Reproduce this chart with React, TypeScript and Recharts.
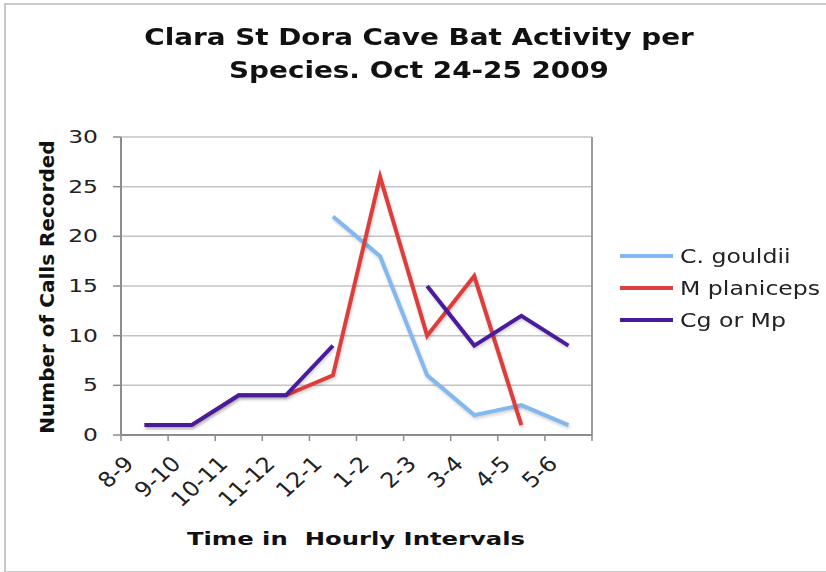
import React from 'react';
import { LineChart, Line, XAxis, YAxis, CartesianGrid, ReferenceLine } from 'recharts';

const categories = ['8-9', '9-10', '10-11', '11-12', '12-1', '1-2', '2-3', '3-4', '4-5', '5-6'];
const cGouldii = [null, null, null, null, 22, 18, 6, 2, 3, 1];
const mPlaniceps = [1, 1, 4, 4, 6, 26, 10, 16, 1, null];
const cgOrMp = [1, 1, 4, 4, 9, null, 15, 9, 12, 9];
const yTicks = [0, 5, 10, 15, 20, 25, 30];

const series = [
  { key: 'gouldii', name: 'C. gouldii', color: '#82b8ee' },
  { key: 'planiceps', name: 'M planiceps', color: '#dc3e3c' },
  { key: 'cgmp', name: 'Cg or Mp', color: '#4a1c9c' },
];

// points sit in the middle of each hourly slot, ticks on the slot edges
const data = categories.map((slot, i) => ({
  pos: i + 0.5,
  slot,
  gouldii: cGouldii[i],
  planiceps: mPlaniceps[i],
  cgmp: cgOrMp[i],
}));
const xTicks = [...categories.map((_, i) => i), categories.length];

const FONT = '"DejaVu Sans", Verdana, sans-serif';

const XTick = (props: any) => {
  const { x, payload } = props;
  const label = categories[payload.value];
  if (!label) return null;
  return (
    <text
      transform={`translate(${x + 14},${465}) scale(1.12,1) rotate(-45)`}
      textAnchor="end"
      fontFamily={FONT}
      fontSize={21}
      fill="#222"
    >
      {label}
    </text>
  );
};

const YTick = (props: any) => {
  const { x, y, payload } = props;
  return (
    <text
      transform={`translate(${x},${y}) scale(1.3,1)`}
      textAnchor="end"
      dominantBaseline="central"
      fontFamily={FONT}
      fontSize={18}
      fill="#222"
    >
      {payload.value}
    </text>
  );
};

export default function App() {
  return (
    <div style={{ position: 'absolute', left: 0, top: 0, width: 826, height: 572, overflow: 'hidden', background: '#fff', fontFamily: FONT }}>
      {/* outer frame */}
      <div style={{ position: 'absolute', left: 4, top: 3, width: 840, height: 566, border: '2px solid #c9c9c9', borderRight: 'none' }} />

      <div style={{ position: 'absolute', left: 0, top: 21, width: 838, textAlign: 'center', fontWeight: 'bold', fontSize: 23, lineHeight: '33px', color: '#111' }}>
        <div style={{ transform: 'scaleX(1.21)' }}>Clara St Dora Cave Bat Activity per</div>
        <div style={{ transform: 'scaleX(1.21)' }}>Species. Oct 24-25 2009</div>
      </div>

      <LineChart width={826} height={572} data={data} margin={{ top: 137, right: 234, left: 0, bottom: 97 }}>
        <CartesianGrid vertical={false} stroke="#c4c4c4" strokeWidth={1.5} />
        <XAxis
          type="number"
          dataKey="pos"
          domain={[0, categories.length]}
          ticks={xTicks}
          interval={0}
          height={40}
          tickSize={6}
          tick={<XTick />}
          axisLine={{ stroke: '#8c8c8c', strokeWidth: 2 }}
          tickLine={{ stroke: '#8c8c8c', strokeWidth: 1.5 }}
        />
        <YAxis
          domain={[0, 30]}
          ticks={yTicks}
          width={121}
          tickSize={8}
          tickMargin={15}
          tick={<YTick />}
          axisLine={{ stroke: '#8c8c8c', strokeWidth: 2 }}
          tickLine={{ stroke: '#8c8c8c', strokeWidth: 1.5 }}
        />
        <ReferenceLine x={categories.length} stroke="#9a9a9a" strokeWidth={2} />
        {series.map((s) => (
          <Line
            key={s.key}
            dataKey={s.key}
            name={s.name}
            stroke={s.color}
            strokeWidth={4}
            dot={false}
            activeDot={false}
            isAnimationActive={false}
            style={{ filter: 'drop-shadow(1px 2px 1.5px rgba(0,0,0,0.18))' }}
          />
        ))}
      </LineChart>

      <div
        style={{
          position: 'absolute',
          left: 47,
          top: 287,
          transform: 'translate(-50%, -50%) rotate(-90deg)',
          whiteSpace: 'nowrap',
          fontWeight: 'bold',
          fontSize: 20,
          color: '#111',
        }}
      >
        Number of Calls Recorded
      </div>

      <div style={{ position: 'absolute', left: 356, top: 538, transform: 'translate(-50%, -50%) scaleX(1.35)', whiteSpace: 'pre', fontWeight: 'bold', fontSize: 18, color: '#111' }}>
        {'Time in  Hourly Intervals'}
      </div>

      <div style={{ position: 'absolute', left: 620, top: 240 }}>
        {series.map((s) => (
          <div key={s.key} style={{ display: 'flex', alignItems: 'center', height: 32 }}>
            <div style={{ width: 53, height: 4, background: s.color, marginRight: 7 }} />
            <div style={{ fontSize: 20, color: '#222', whiteSpace: 'nowrap', transform: 'scaleX(1.18)', transformOrigin: 'left center' }}>{s.name}</div>
          </div>
        ))}
      </div>
    </div>
  );
}
